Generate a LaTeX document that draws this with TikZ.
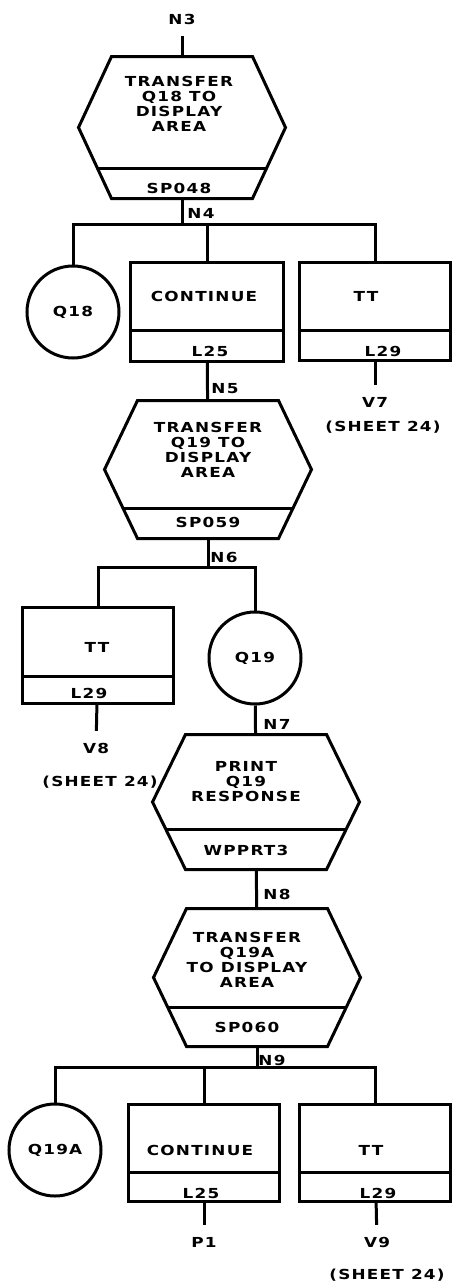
\documentclass[tikz,border=0pt]{standalone}
\usepackage{fontspec}
\setmainfont{DejaVu Sans}[FakeStretch=1.22, LetterSpace=9]
\usetikzlibrary{calc}

\begin{document}
\begin{tikzpicture}[x=0.5pt, y=-0.5pt, line width=1.5pt,
  every node/.style={align=center, font=\bfseries\fontsize{6.9}{7.5}\selectfont, inner sep=1pt},
  hexbox/.style={minimum width=102pt, minimum height=67.5pt, inner sep=0pt},
  box/.style={draw, minimum width=75.5pt, minimum height=49pt, inner sep=0pt},
  term/.style={circle, draw, minimum size=46pt, inner sep=0pt},
  exit/.style={outer sep=5pt}]
  \useasboundingbox (0,0) rectangle (452,1286);

  % Transfer Q18
  \node[exit] (n3) at (182,19) {N3};
  \node[hexbox, minimum height=69.5pt] (tq18) at (182,127.5) {};
  \node (tq18t) at (179,104) {TRANSFER\\Q18 TO\\DISPLAY\\AREA};
  \node (sp048) at (179,188) {SP048};
  \node (n4) at (201,213) {N4};
  \coordinate (j4) at (182,224);

  % First branch row
  \node[term] (q18) at (73,312) {Q18};
  \node[box, minimum width=76.5pt, minimum height=49.5pt] (cont1) at (207,311.5) {};
  \node (cont1t) at (204,296) {CONTINUE};
  \node (l25a) at (210,351) {L25};
  \node[box] (tt1) at (375,311.5) {};
  \node (tt1t) at (366,296) {TT};
  \node (l29a) at (383,351) {L29};
  \node[exit] (v7) at (375,402) {V7};
  \node (sheet1) at (383,427) {(SHEET 24)};

  % Transfer Q19
  \node (n5) at (225,389) {N5};
  \node[hexbox] (tq19) at (208,469.5) {};
  \node (tq19t) at (208,450) {TRANSFER\\Q19 TO\\DISPLAY\\AREA};
  \node (sp059) at (208,522) {SP059};
  \node (n6) at (224,557) {N6};
  \coordinate (j6) at (208,567);

  % Second branch row
  \node[box, minimum height=48pt] (tt2) at (98,655) {};
  \node (tt2t) at (97,647) {TT};
  \node (l29b) at (89,693) {L29};
  \node[exit] (v8) at (96,748) {V8};
  \node (sheet2) at (100,782) {(SHEET 24)};
  \node[term] (q19) at (255,658) {Q19};

  % Print Q19 response
  \node (n7) at (277,724) {N7};
  \node[hexbox, minimum height=66pt] (pq19) at (256,802) {};
  \node (pq19t) at (246,782) {PRINT\\Q19\\RESPONSE};
  \node (wpprt3) at (246,850) {WPPRT3};

  % Transfer Q19A
  \node (n8) at (277,894) {N8};
  \node[hexbox] (tq19a) at (257,977.5) {};
  \node (tq19at) at (247,960) {TRANSFER\\Q19A\\TO DISPLAY\\AREA};
  \node (sp060) at (247,1027) {SP060};
  \node (n9) at (272,1060) {N9};
  \coordinate (j9) at (257,1067);

  % Third branch row
  \node[term] (q19a) at (55,1150) {Q19A};
  \node[box, minimum height=48.5pt] (cont2) at (204,1152.5) {};
  \node (cont2t) at (200,1150) {CONTINUE};
  \node (l25b) at (201,1193) {L25};
  \node[box, minimum height=48.5pt] (tt3) at (375,1152.5) {};
  \node (tt3t) at (371,1150) {TT};
  \node (l29c) at (378,1193) {L29};
  \node[exit] (p1) at (204,1242) {P1};
  \node[exit] (v9) at (377,1242) {V9};
  \node (sheet3) at (387,1275) {(SHEET 24)};

  % Hexagon outlines and dividers
  \foreach \h/\f in {tq18/0.42, tq19/0.44, pq19/0.59, tq19a/0.56} {
    \draw ([xshift=16.5pt]\h.north west) -- ([xshift=-16.5pt]\h.north east) -- (\h.east)
      -- ([xshift=-16.5pt]\h.south east) -- ([xshift=16.5pt]\h.south west) -- (\h.west) -- cycle;
    \draw ($([xshift=16.5pt]\h.south west)!\f!(\h.west)$) -- ($([xshift=-16.5pt]\h.south east)!\f!(\h.east)$);
  }
  \foreach \b/\d in {cont1/16pt, tt1/16pt, tt2/14pt, cont2/15pt, tt3/15pt}
    \draw ([yshift=\d]\b.south west) -- ([yshift=\d]\b.south east);

  % Connectors
  \draw (n3) -- (tq18);
  \draw (tq18) -- (j4);
  \draw (q18) |- (j4) -| (tt1);
  \draw (cont1) -- (cont1 |- j4);
  \draw (cont1) -- (tq19);
  \draw (tt1) -- (v7);
  \draw (tq19) -- (j6);
  \draw (tt2) |- (j6) -| (q19);
  \draw (tt2) -- (v8);
  \draw (q19) -- (pq19);
  \draw (pq19) -- (tq19a);
  \draw (tq19a) -- (j9);
  \draw (q19a) |- (j9) -| (tt3);
  \draw (cont2) -- (cont2 |- j9);
  \draw (cont2) -- (p1);
  \draw (tt3) -- (v9);
\end{tikzpicture}
\end{document}
